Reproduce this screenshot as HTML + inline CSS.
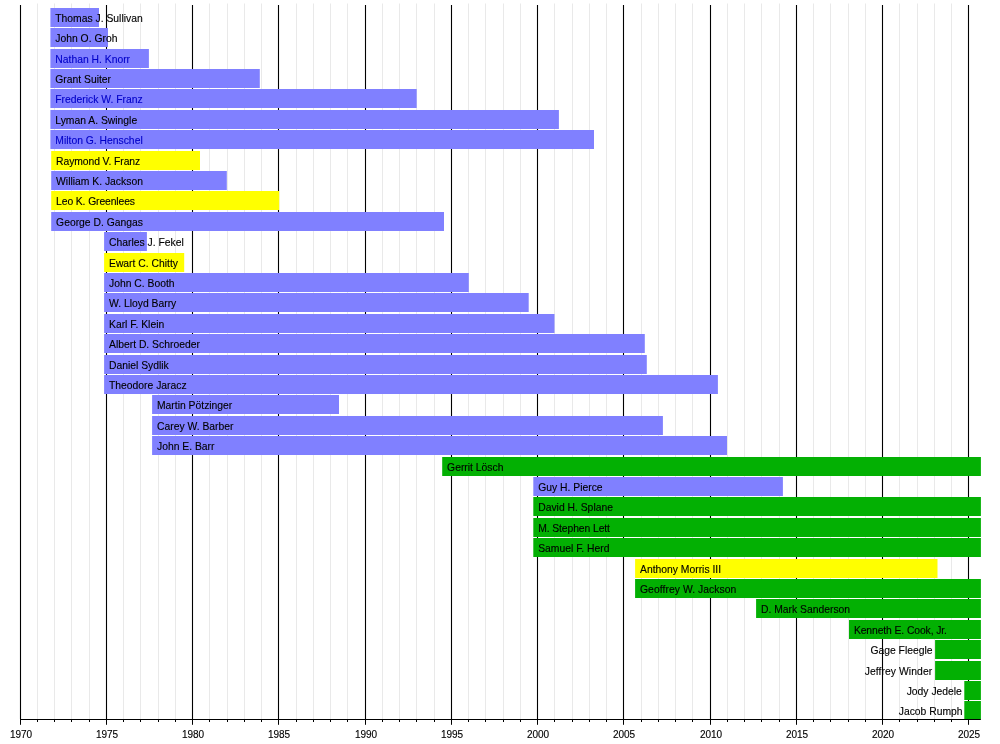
<!DOCTYPE html>
<html><head><meta charset="utf-8"><title>Timeline</title>
<style>
html,body{margin:0;padding:0;background:#fff;}
svg{display:block;will-change:transform;}
text{font-family:"Liberation Sans",sans-serif;}
</style></head><body>
<svg width="1000" height="744" viewBox="0 0 1000 744">
<rect x="0" y="0" width="1000" height="744" fill="#ffffff"/>
<g stroke="#e9e9e9" stroke-width="1">
<line x1="37.50" y1="3.5" x2="37.50" y2="719.5"/>
<line x1="54.50" y1="3.5" x2="54.50" y2="719.5"/>
<line x1="71.50" y1="3.5" x2="71.50" y2="719.5"/>
<line x1="89.50" y1="3.5" x2="89.50" y2="719.5"/>
<line x1="123.50" y1="3.5" x2="123.50" y2="719.5"/>
<line x1="140.50" y1="3.5" x2="140.50" y2="719.5"/>
<line x1="158.50" y1="3.5" x2="158.50" y2="719.5"/>
<line x1="175.50" y1="3.5" x2="175.50" y2="719.5"/>
<line x1="209.50" y1="3.5" x2="209.50" y2="719.5"/>
<line x1="227.50" y1="3.5" x2="227.50" y2="719.5"/>
<line x1="244.50" y1="3.5" x2="244.50" y2="719.5"/>
<line x1="261.50" y1="3.5" x2="261.50" y2="719.5"/>
<line x1="296.50" y1="3.5" x2="296.50" y2="719.5"/>
<line x1="313.50" y1="3.5" x2="313.50" y2="719.5"/>
<line x1="330.50" y1="3.5" x2="330.50" y2="719.5"/>
<line x1="347.50" y1="3.5" x2="347.50" y2="719.5"/>
<line x1="382.50" y1="3.5" x2="382.50" y2="719.5"/>
<line x1="399.50" y1="3.5" x2="399.50" y2="719.5"/>
<line x1="416.50" y1="3.5" x2="416.50" y2="719.5"/>
<line x1="434.50" y1="3.5" x2="434.50" y2="719.5"/>
<line x1="468.50" y1="3.5" x2="468.50" y2="719.5"/>
<line x1="485.50" y1="3.5" x2="485.50" y2="719.5"/>
<line x1="503.50" y1="3.5" x2="503.50" y2="719.5"/>
<line x1="520.50" y1="3.5" x2="520.50" y2="719.5"/>
<line x1="554.50" y1="3.5" x2="554.50" y2="719.5"/>
<line x1="572.50" y1="3.5" x2="572.50" y2="719.5"/>
<line x1="589.50" y1="3.5" x2="589.50" y2="719.5"/>
<line x1="606.50" y1="3.5" x2="606.50" y2="719.5"/>
<line x1="641.50" y1="3.5" x2="641.50" y2="719.5"/>
<line x1="658.50" y1="3.5" x2="658.50" y2="719.5"/>
<line x1="675.50" y1="3.5" x2="675.50" y2="719.5"/>
<line x1="692.50" y1="3.5" x2="692.50" y2="719.5"/>
<line x1="727.50" y1="3.5" x2="727.50" y2="719.5"/>
<line x1="744.50" y1="3.5" x2="744.50" y2="719.5"/>
<line x1="761.50" y1="3.5" x2="761.50" y2="719.5"/>
<line x1="779.50" y1="3.5" x2="779.50" y2="719.5"/>
<line x1="813.50" y1="3.5" x2="813.50" y2="719.5"/>
<line x1="830.50" y1="3.5" x2="830.50" y2="719.5"/>
<line x1="848.50" y1="3.5" x2="848.50" y2="719.5"/>
<line x1="865.50" y1="3.5" x2="865.50" y2="719.5"/>
<line x1="899.50" y1="3.5" x2="899.50" y2="719.5"/>
<line x1="917.50" y1="3.5" x2="917.50" y2="719.5"/>
<line x1="934.50" y1="3.5" x2="934.50" y2="719.5"/>
<line x1="951.50" y1="3.5" x2="951.50" y2="719.5"/>
</g>
<g stroke="#000" stroke-width="1.1">
<line x1="20.50" y1="5" x2="20.50" y2="719.5"/>
<line x1="106.50" y1="5" x2="106.50" y2="719.5"/>
<line x1="192.50" y1="5" x2="192.50" y2="719.5"/>
<line x1="278.50" y1="5" x2="278.50" y2="719.5"/>
<line x1="365.50" y1="5" x2="365.50" y2="719.5"/>
<line x1="451.50" y1="5" x2="451.50" y2="719.5"/>
<line x1="537.50" y1="5" x2="537.50" y2="719.5"/>
<line x1="623.50" y1="5" x2="623.50" y2="719.5"/>
<line x1="710.50" y1="5" x2="710.50" y2="719.5"/>
<line x1="796.50" y1="5" x2="796.50" y2="719.5"/>
<line x1="882.50" y1="5" x2="882.50" y2="719.5"/>
<line x1="968.50" y1="5" x2="968.50" y2="719.5"/>
</g>
<rect x="50.40" y="8.00" width="48.60" height="19.00" fill="#8080ff"/>
<rect x="50.40" y="28.00" width="57.60" height="19.00" fill="#8080ff"/>
<rect x="50.40" y="49.00" width="98.50" height="19.00" fill="#8080ff"/>
<rect x="50.40" y="69.00" width="209.40" height="19.00" fill="#8080ff"/>
<rect x="50.40" y="89.00" width="366.30" height="19.00" fill="#8080ff"/>
<rect x="50.40" y="110.00" width="508.50" height="19.00" fill="#8080ff"/>
<rect x="50.40" y="130.00" width="543.60" height="19.00" fill="#8080ff"/>
<rect x="51.20" y="151.00" width="148.80" height="19.00" fill="#ffff00"/>
<rect x="51.20" y="171.00" width="175.60" height="19.00" fill="#8080ff"/>
<rect x="51.20" y="191.00" width="228.00" height="19.00" fill="#ffff00"/>
<rect x="51.20" y="212.00" width="392.80" height="19.00" fill="#8080ff"/>
<rect x="104.10" y="232.00" width="42.80" height="19.00" fill="#8080ff"/>
<rect x="104.10" y="253.00" width="80.10" height="19.00" fill="#ffff00"/>
<rect x="104.10" y="273.00" width="364.70" height="19.00" fill="#8080ff"/>
<rect x="104.10" y="293.00" width="424.60" height="19.00" fill="#8080ff"/>
<rect x="104.10" y="314.00" width="450.40" height="19.00" fill="#8080ff"/>
<rect x="104.10" y="334.00" width="540.70" height="19.00" fill="#8080ff"/>
<rect x="104.10" y="355.00" width="542.70" height="19.00" fill="#8080ff"/>
<rect x="104.10" y="375.00" width="613.80" height="19.00" fill="#8080ff"/>
<rect x="152.10" y="395.00" width="186.90" height="19.00" fill="#8080ff"/>
<rect x="152.10" y="416.00" width="510.80" height="19.00" fill="#8080ff"/>
<rect x="152.10" y="436.00" width="574.90" height="19.00" fill="#8080ff"/>
<rect x="442.20" y="457.00" width="538.70" height="19.00" fill="#03b003"/>
<rect x="533.30" y="477.00" width="249.60" height="19.00" fill="#8080ff"/>
<rect x="533.30" y="497.00" width="447.60" height="19.00" fill="#03b003"/>
<rect x="533.30" y="518.00" width="447.60" height="19.00" fill="#03b003"/>
<rect x="533.30" y="538.00" width="447.60" height="19.00" fill="#03b003"/>
<rect x="635.10" y="559.00" width="302.40" height="19.00" fill="#ffff00"/>
<rect x="635.10" y="579.00" width="345.80" height="19.00" fill="#03b003"/>
<rect x="756.10" y="599.00" width="224.80" height="19.00" fill="#03b003"/>
<rect x="849.00" y="620.00" width="131.90" height="19.00" fill="#03b003"/>
<rect x="935.10" y="640.00" width="45.80" height="19.00" fill="#03b003"/>
<rect x="935.10" y="661.00" width="45.80" height="19.00" fill="#03b003"/>
<rect x="964.30" y="681.00" width="16.60" height="19.00" fill="#03b003"/>
<rect x="964.30" y="701.00" width="16.60" height="18.00" fill="#03b003"/>
<g stroke="#000" stroke-width="1">
<line x1="20.05" y1="719.5" x2="980.90" y2="719.5"/>
<line x1="20.50" y1="719.5" x2="20.50" y2="724.8"/>
<line x1="37.50" y1="719.5" x2="37.50" y2="722.0"/>
<line x1="54.50" y1="719.5" x2="54.50" y2="722.0"/>
<line x1="71.50" y1="719.5" x2="71.50" y2="722.0"/>
<line x1="89.50" y1="719.5" x2="89.50" y2="722.0"/>
<line x1="106.50" y1="719.5" x2="106.50" y2="724.8"/>
<line x1="123.50" y1="719.5" x2="123.50" y2="722.0"/>
<line x1="140.50" y1="719.5" x2="140.50" y2="722.0"/>
<line x1="158.50" y1="719.5" x2="158.50" y2="722.0"/>
<line x1="175.50" y1="719.5" x2="175.50" y2="722.0"/>
<line x1="192.50" y1="719.5" x2="192.50" y2="724.8"/>
<line x1="209.50" y1="719.5" x2="209.50" y2="722.0"/>
<line x1="227.50" y1="719.5" x2="227.50" y2="722.0"/>
<line x1="244.50" y1="719.5" x2="244.50" y2="722.0"/>
<line x1="261.50" y1="719.5" x2="261.50" y2="722.0"/>
<line x1="278.50" y1="719.5" x2="278.50" y2="724.8"/>
<line x1="296.50" y1="719.5" x2="296.50" y2="722.0"/>
<line x1="313.50" y1="719.5" x2="313.50" y2="722.0"/>
<line x1="330.50" y1="719.5" x2="330.50" y2="722.0"/>
<line x1="347.50" y1="719.5" x2="347.50" y2="722.0"/>
<line x1="365.50" y1="719.5" x2="365.50" y2="724.8"/>
<line x1="382.50" y1="719.5" x2="382.50" y2="722.0"/>
<line x1="399.50" y1="719.5" x2="399.50" y2="722.0"/>
<line x1="416.50" y1="719.5" x2="416.50" y2="722.0"/>
<line x1="434.50" y1="719.5" x2="434.50" y2="722.0"/>
<line x1="451.50" y1="719.5" x2="451.50" y2="724.8"/>
<line x1="468.50" y1="719.5" x2="468.50" y2="722.0"/>
<line x1="485.50" y1="719.5" x2="485.50" y2="722.0"/>
<line x1="503.50" y1="719.5" x2="503.50" y2="722.0"/>
<line x1="520.50" y1="719.5" x2="520.50" y2="722.0"/>
<line x1="537.50" y1="719.5" x2="537.50" y2="724.8"/>
<line x1="554.50" y1="719.5" x2="554.50" y2="722.0"/>
<line x1="572.50" y1="719.5" x2="572.50" y2="722.0"/>
<line x1="589.50" y1="719.5" x2="589.50" y2="722.0"/>
<line x1="606.50" y1="719.5" x2="606.50" y2="722.0"/>
<line x1="623.50" y1="719.5" x2="623.50" y2="724.8"/>
<line x1="641.50" y1="719.5" x2="641.50" y2="722.0"/>
<line x1="658.50" y1="719.5" x2="658.50" y2="722.0"/>
<line x1="675.50" y1="719.5" x2="675.50" y2="722.0"/>
<line x1="692.50" y1="719.5" x2="692.50" y2="722.0"/>
<line x1="710.50" y1="719.5" x2="710.50" y2="724.8"/>
<line x1="727.50" y1="719.5" x2="727.50" y2="722.0"/>
<line x1="744.50" y1="719.5" x2="744.50" y2="722.0"/>
<line x1="761.50" y1="719.5" x2="761.50" y2="722.0"/>
<line x1="779.50" y1="719.5" x2="779.50" y2="722.0"/>
<line x1="796.50" y1="719.5" x2="796.50" y2="724.8"/>
<line x1="813.50" y1="719.5" x2="813.50" y2="722.0"/>
<line x1="830.50" y1="719.5" x2="830.50" y2="722.0"/>
<line x1="848.50" y1="719.5" x2="848.50" y2="722.0"/>
<line x1="865.50" y1="719.5" x2="865.50" y2="722.0"/>
<line x1="882.50" y1="719.5" x2="882.50" y2="724.8"/>
<line x1="899.50" y1="719.5" x2="899.50" y2="722.0"/>
<line x1="917.50" y1="719.5" x2="917.50" y2="722.0"/>
<line x1="934.50" y1="719.5" x2="934.50" y2="722.0"/>
<line x1="951.50" y1="719.5" x2="951.50" y2="722.0"/>
<line x1="968.50" y1="719.5" x2="968.50" y2="724.8"/>
</g>
<g font-size="10" fill="#000" stroke="#000" stroke-width="0.12" text-anchor="middle">
<text x="21.00" y="737.8">1970</text>
<text x="107.00" y="737.8">1975</text>
<text x="193.00" y="737.8">1980</text>
<text x="279.00" y="737.8">1985</text>
<text x="366.00" y="737.8">1990</text>
<text x="452.00" y="737.8">1995</text>
<text x="538.00" y="737.8">2000</text>
<text x="624.00" y="737.8">2005</text>
<text x="711.00" y="737.8">2010</text>
<text x="797.00" y="737.8">2015</text>
<text x="883.00" y="737.8">2020</text>
<text x="969.00" y="737.8">2025</text>
</g>
<g font-size="10.35" stroke-width="0.12">
<text x="55.30" y="22.00" fill="#000000" stroke="#000000">Thomas J. Sullivan</text>
<text x="55.30" y="42.00" fill="#000000" stroke="#000000">John O. Groh</text>
<text x="55.30" y="63.00" fill="#0000c8" stroke="#0000c8">Nathan H. Knorr</text>
<text x="55.30" y="83.00" fill="#000000" stroke="#000000">Grant Suiter</text>
<text x="55.30" y="103.00" fill="#0000c8" stroke="#0000c8">Frederick W. Franz</text>
<text x="55.30" y="124.00" fill="#000000" stroke="#000000">Lyman A. Swingle</text>
<text x="55.30" y="144.00" fill="#0000c8" stroke="#0000c8">Milton G. Henschel</text>
<text x="56.10" y="165.00" fill="#000000" stroke="#000000" textLength="84.05" lengthAdjust="spacing">Raymond V. Franz</text>
<text x="56.10" y="185.00" fill="#000000" stroke="#000000">William K. Jackson</text>
<text x="56.10" y="205.00" fill="#000000" stroke="#000000" textLength="78.94" lengthAdjust="spacing">Leo K. Greenlees</text>
<text x="56.10" y="226.00" fill="#000000" stroke="#000000">George D. Gangas</text>
<text x="109.00" y="246.00" fill="#000000" stroke="#000000">Charles J. Fekel</text>
<text x="109.00" y="267.00" fill="#000000" stroke="#000000">Ewart C. Chitty</text>
<text x="109.00" y="287.00" fill="#000000" stroke="#000000">John C. Booth</text>
<text x="109.00" y="307.00" fill="#000000" stroke="#000000">W. Lloyd Barry</text>
<text x="109.00" y="328.00" fill="#000000" stroke="#000000">Karl F. Klein</text>
<text x="109.00" y="348.00" fill="#000000" stroke="#000000">Albert D. Schroeder</text>
<text x="109.00" y="369.00" fill="#000000" stroke="#000000">Daniel Sydlik</text>
<text x="109.00" y="389.00" fill="#000000" stroke="#000000">Theodore Jaracz</text>
<text x="157.00" y="409.00" fill="#000000" stroke="#000000">Martin Pötzinger</text>
<text x="157.00" y="430.00" fill="#000000" stroke="#000000">Carey W. Barber</text>
<text x="157.00" y="450.00" fill="#000000" stroke="#000000">John E. Barr</text>
<text x="447.10" y="471.00" fill="#000000" stroke="#000000">Gerrit Lösch</text>
<text x="538.20" y="491.00" fill="#000000" stroke="#000000">Guy H. Pierce</text>
<text x="538.20" y="511.00" fill="#000000" stroke="#000000">David H. Splane</text>
<text x="538.20" y="532.00" fill="#000000" stroke="#000000" textLength="71.76" lengthAdjust="spacing">M. Stephen Lett</text>
<text x="538.20" y="552.00" fill="#000000" stroke="#000000">Samuel F. Herd</text>
<text x="640.00" y="573.00" fill="#000000" stroke="#000000">Anthony Morris III</text>
<text x="640.00" y="593.00" fill="#000000" stroke="#000000" textLength="96.35" lengthAdjust="spacing">Geoffrey W. Jackson</text>
<text x="761.00" y="613.00" fill="#000000" stroke="#000000">D. Mark Sanderson</text>
<text x="853.90" y="634.00" fill="#000000" stroke="#000000" textLength="93.03" lengthAdjust="spacing">Kenneth E. Cook, Jr.</text>
<text x="932.50" y="654.00" fill="#000000" stroke="#000000" text-anchor="end">Gage Fleegle</text>
<text x="932.20" y="675.00" fill="#000000" stroke="#000000" text-anchor="end" textLength="67.46" lengthAdjust="spacing">Jeffrey Winder</text>
<text x="961.90" y="695.00" fill="#000000" stroke="#000000" text-anchor="end">Jody Jedele</text>
<text x="962.60" y="715.00" fill="#000000" stroke="#000000" text-anchor="end">Jacob Rumph</text>
</g>
</svg>
</body></html>
